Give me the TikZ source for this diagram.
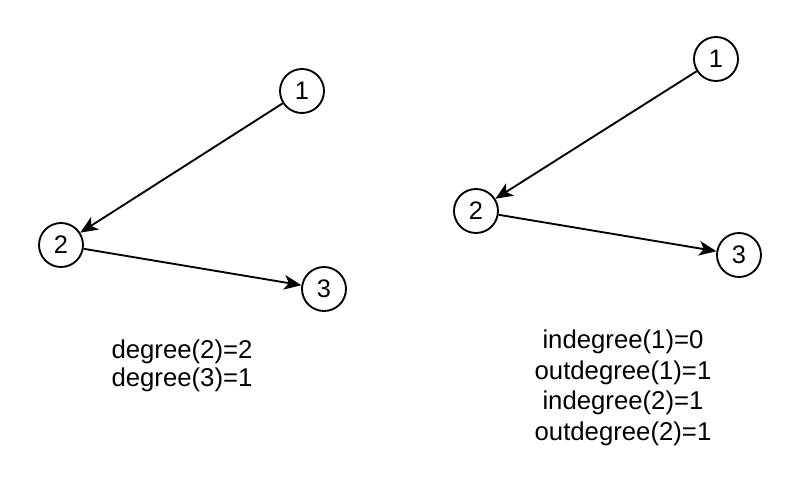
\documentclass[tikz,border=0pt]{standalone}
\usepackage{fontspec}
\setmainfont{Liberation Sans}
\usetikzlibrary{arrows.meta}

\begin{document}
\begin{tikzpicture}[
    x=0.75pt, y=-0.75pt,
    vertex/.style={draw, circle, line width=1.4pt, minimum size=33pt,
                   inner sep=0pt, font=\fontsize{19}{21}\selectfont},
    arr/.style={-{Stealth[length=13pt, width=11pt, inset=3.5pt]}, line width=1.4pt},
    info/.style={align=center}
]
  \useasboundingbox (0,0) rectangle (794,483);

  % undirected degree example
  \node[vertex] (l1) at (302,91) {1};
  \node[vertex] (l2) at (61,245) {2};
  \node[vertex] (l3) at (324,289) {3};
  \draw[arr] (l1) -- (l2);
  \draw[arr] (l2) -- (l3);
  \node[info, font=\fontsize{19.3}{21}\selectfont] (ldeg) at (182,366)
    {degree(2)=2\\degree(3)=1};

  % in/out degree example
  \node[vertex] (r1) at (716,59) {1};
  \node[vertex] (r2) at (476,211) {2};
  \node[vertex] (r3) at (739,255) {3};
  \draw[arr] (r1) -- (r2);
  \draw[arr] (r2) -- (r3);
  \node[info, font=\fontsize{19.3}{23}\selectfont] (rdeg) at (623,388)
    {indegree(1)=0\\outdegree(1)=1\\indegree(2)=1\\outdegree(2)=1};
\end{tikzpicture}
\end{document}
